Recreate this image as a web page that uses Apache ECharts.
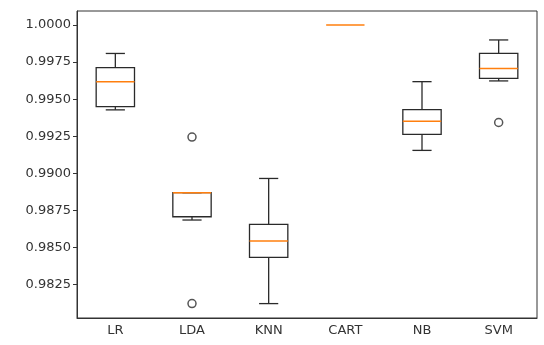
<!DOCTYPE html>
<html><head><meta charset="utf-8">
<script src="https://cdn.jsdelivr.net/npm/echarts@6/dist/echarts.min.js"></script>
<style>html,body{margin:0;padding:0;background:#fff}#c{width:544px;height:345px}</style>
</head><body><div id="c"></div>
<script>
const categories = ['LR', 'LDA', 'KNN', 'CART', 'NB', 'SVM'];
// [lower whisker, Q1, median, Q3, upper whisker]
const boxLR   = [0.99428, 0.99450, 0.99618, 0.99712, 0.99808];
const boxLDA  = [0.98686, 0.98708, 0.98870, 0.98870, 0.98870];
const boxKNN  = [0.98123, 0.98434, 0.98544, 0.98657, 0.98966];
const boxCART = [1.0, 1.0, 1.0, 1.0, 1.0];
const boxNB   = [0.99155, 0.99263, 0.99352, 0.99430, 0.99618];
const boxSVM  = [0.99623, 0.99640, 0.99707, 0.99808, 0.99899];
const outliers = [['LDA', 0.99245], ['LDA', 0.98123], ['SVM', 0.99343]];
const yTicks = [0.9825, 0.9850, 0.9875, 0.9900, 0.9925, 0.9950, 0.9975, 1.0000];

const boxes = [boxLR, boxLDA, boxKNN, boxCART, boxNB, boxSVM];
const boxData = boxes.map((b, i) => [i].concat(b));

const chart = echarts.init(document.getElementById('c'));
const axisCol = '#333';
const lineCol = '#2a2a2a';

function renderBox(params, api) {
  const i = api.value(0);
  const lo = api.coord([i, api.value(1)]);
  const q1 = api.coord([i, api.value(2)]);
  const md = api.coord([i, api.value(3)]);
  const q3 = api.coord([i, api.value(4)]);
  const hi = api.coord([i, api.value(5)]);
  const band = api.size([1, 0])[0];
  const w = band * 0.5, cw = band * 0.25;
  const x = lo[0];
  const ls = {stroke: lineCol, lineWidth: 1.3, fill: null};
  const children = [];
  if (q1[1] - lo[1] !== 0) children.push({type: 'line', shape: {x1: x, y1: lo[1], x2: x, y2: q1[1]}, style: ls});
  if (hi[1] - q3[1] !== 0) children.push({type: 'line', shape: {x1: x, y1: q3[1], x2: x, y2: hi[1]}, style: ls});
  if (q1[1] - q3[1] !== 0) {
    children.push({type: 'line', shape: {x1: x - cw / 2, y1: lo[1], x2: x + cw / 2, y2: lo[1]}, style: ls});
    children.push({type: 'line', shape: {x1: x - cw / 2, y1: hi[1], x2: x + cw / 2, y2: hi[1]}, style: ls});
    children.push({type: 'rect', shape: {x: x - w / 2, y: q3[1], width: w, height: q1[1] - q3[1]}, style: ls});
  }
  children.push({type: 'line', shape: {x1: x - w / 2, y1: md[1], x2: x + w / 2, y2: md[1]},
     style: {stroke: '#ff7f0e', lineWidth: 1.5}});
  return {type: 'group', children: children};
}

chart.setOption({
  animation: false,
  grid: {left: 77, top: 11, right: 7, bottom: 27, show: true, borderColor: axisCol, borderWidth: 1},
  xAxis: {
    type: 'category', data: categories, boundaryGap: true,
    axisLine: {lineStyle: {color: axisCol}},
    axisTick: {alignWithLabel: true, length: 4, lineStyle: {color: axisCol}},
    axisLabel: {color: '#333', fontSize: 13, fontFamily: 'DejaVu Sans', margin: 6},
    splitLine: {show: false}
  },
  yAxis: {
    type: 'value', min: 0.98026, max: 1.00094, scale: true,
    axisLine: {show: true, lineStyle: {color: axisCol}},
    axisTick: {show: true, length: 4, customValues: yTicks, lineStyle: {color: axisCol}},
    axisLabel: {color: '#333', fontSize: 13, fontFamily: 'DejaVu Sans', margin: 6,
      customValues: yTicks, formatter: v => v.toFixed(4)},
    splitLine: {show: false}
  },
  series: [
    {type: 'custom', data: boxData, renderItem: renderBox,
     encode: {x: 0, y: [1, 2, 3, 4, 5]}, z: 3},
    {type: 'scatter', data: outliers, symbol: 'circle', symbolSize: 8,
     itemStyle: {color: '#fff', borderColor: lineCol, borderWidth: 1.5}, z: 5}
  ]
});
</script></body></html>
